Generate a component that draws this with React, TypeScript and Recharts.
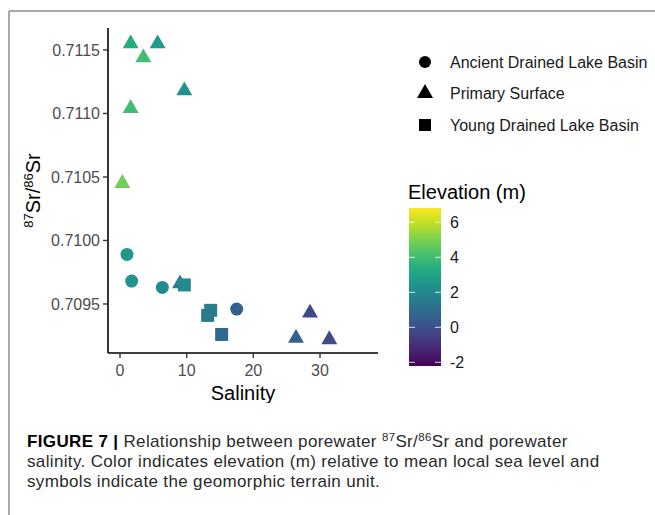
import React from 'react';
import { ScatterChart, Scatter, XAxis, YAxis } from 'recharts';

// terrain units: salinity, 87Sr/86Sr, elevation (m)
const ancientSalinity = [1.05, 1.75, 6.35, 17.5];
const ancientRatio = [0.70989, 0.70968, 0.70963, 0.70946];
const ancientElevation = [2.5, 2.3, 2.0, 0.5];

const primarySalinity = [1.6, 5.65, 3.5, 9.65, 1.6, 0.35, 9.0, 26.4, 28.5, 31.4];
const primaryRatio = [0.71155, 0.71155, 0.71144, 0.71118, 0.71104, 0.71045, 0.70966, 0.70923, 0.70943, 0.70922];
const primaryElevation = [3.3, 2.6, 4.0, 2.3, 4.0, 4.8, 1.7, 0.6, -0.25, -0.2];

const youngSalinity = [9.65, 13.6, 13.15, 15.25];
const youngRatio = [0.70965, 0.70945, 0.70941, 0.70926];
const youngElevation = [2.0, 1.6, 1.4, 0.8];

const xTicks = [0, 10, 20, 30];
const yTicks = [0.7095, 0.71, 0.7105, 0.711, 0.7115];
const colorTicks = [-2, 0, 2, 4, 6];
const legendLabels = ['Ancient Drained Lake Basin', 'Primary Surface', 'Young Drained Lake Basin'];

const FONT = '"Liberation Sans", Arial, Helvetica, sans-serif';
const ELEV_MIN = -2.25;
const ELEV_MAX = 6.78;
const VIRIDIS = ['#440154', '#482475', '#414487', '#355f8d', '#2a788e', '#21918c', '#22a884', '#44bf70', '#7ad151', '#bddf26', '#fde725'];

function hex(c: string) {
  return [1, 3, 5].map((i) => parseInt(c.slice(i, i + 2), 16));
}

function viridis(v: number) {
  let t = (v - ELEV_MIN) / (ELEV_MAX - ELEV_MIN);
  t = Math.max(0, Math.min(1, t));
  const p = t * (VIRIDIS.length - 1);
  const i = Math.min(Math.floor(p), VIRIDIS.length - 2);
  const f = p - i;
  const a = hex(VIRIDIS[i]);
  const b = hex(VIRIDIS[i + 1]);
  const m = a.map((x, k) => Math.round(x + (b[k] - x) * f));
  return `rgb(${m[0]},${m[1]},${m[2]})`;
}

function build(sal: number[], ratio: number[], elev: number[]) {
  return sal.map((s, i) => ({ x: s, y: ratio[i], elev: elev[i] }));
}

const ancientData = build(ancientSalinity, ancientRatio, ancientElevation);
const primaryData = build(primarySalinity, primaryRatio, primaryElevation);
const youngData = build(youngSalinity, youngRatio, youngElevation);

const CircleShape = (p: any) => <circle cx={p.cx} cy={p.cy} r={6.5} fill={viridis(p.payload.elev)} />;
const SquareShape = (p: any) => (
  <rect x={p.cx - 6.5} y={p.cy - 6.5} width={13} height={13} fill={viridis(p.payload.elev)} />
);
const TriangleShape = (p: any) => {
  const r = 9.2;
  const xc = r * 0.866;
  const pts = `${p.cx},${p.cy - r} ${p.cx + xc},${p.cy + r / 2} ${p.cx - xc},${p.cy + r / 2}`;
  return <polygon points={pts} fill={viridis(p.payload.elev)} />;
};

const YLabel = () => (
  <text transform="translate(31,190.5) rotate(-90)" y={9} textAnchor="middle" fontSize={20} fill="#000" fontFamily={FONT}>
    <tspan fontSize={13} dy={-7}>87</tspan>
    <tspan dy={7}>Sr/</tspan>
    <tspan fontSize={13} dy={-7}>86</tspan>
    <tspan dy={7}>Sr</tspan>
  </text>
);

const XLabel = () => (
  <text x={243} y={400} textAnchor="middle" fontSize={20} fill="#000" fontFamily={FONT}>
    Salinity
  </text>
);

const barTop = 208;
const barBottom = 366;
const barY = (v: number) => 327.3 - v * 17.5;

export default function App() {
  return (
    <div style={{ position: 'absolute', left: 0, top: 0, width: 655, height: 515, background: '#fff', fontFamily: FONT }}>
      <div style={{ position: 'absolute', left: 0, top: 0 }}>
        <ScatterChart width={400} height={403} margin={{ top: 28, right: 22, bottom: 0, left: 20 }}>
          <XAxis
            type="number"
            dataKey="x"
            domain={[-1.8, 38.7]}
            ticks={xTicks}
            height={50}
            tickSize={5}
            tickMargin={7}
            axisLine={{ stroke: '#000', strokeWidth: 1.6 }}
            tickLine={{ stroke: '#333', strokeWidth: 1.4 }}
            tick={{ fill: '#4d4d4d', fontSize: 16, fontFamily: FONT }}
            label={<XLabel />}
          />
          <YAxis
            type="number"
            dataKey="y"
            domain={[0.709114, 0.711673]}
            ticks={yTicks}
            width={88}
            tickSize={5}
            tickMargin={3}
            tickFormatter={(v: number) => v.toFixed(4)}
            axisLine={{ stroke: '#000', strokeWidth: 1.6 }}
            tickLine={{ stroke: '#333', strokeWidth: 1.4 }}
            tick={{ fill: '#4d4d4d', fontSize: 16, fontFamily: FONT }}
            label={<YLabel />}
          />
          <Scatter data={ancientData} shape={CircleShape} isAnimationActive={false} />
          <Scatter data={primaryData} shape={TriangleShape} isAnimationActive={false} />
          <Scatter data={youngData} shape={SquareShape} isAnimationActive={false} />
        </ScatterChart>
      </div>
      <svg width={655} height={515} style={{ position: 'absolute', left: 0, top: 0, pointerEvents: 'none' }} fontFamily={FONT}>
        <line x1={9} y1={11} x2={655} y2={11} stroke="#8c8c8c" strokeWidth={1.5} />
        <line x1={9} y1={11} x2={9} y2={515} stroke="#8c8c8c" strokeWidth={1.5} />

        {/* shape legend */}
        <circle cx={425} cy={62} r={6} fill="#000" />
        <polygon points="425,84 433,98 417,98" fill="#000" />
        <rect x={419} y={119} width={12} height={12} fill="#000" />
        {legendLabels.map((l, i) => (
          <text key={l} x={450} y={[62, 93, 125][i]} dominantBaseline="central" fontSize={16} fill="#1a1a1a">
            {l}
          </text>
        ))}

        {/* colour bar */}
        <defs>
          <linearGradient id="vir" x1="0" y1="1" x2="0" y2="0">
            {VIRIDIS.map((c, i) => (
              <stop key={i} offset={i / (VIRIDIS.length - 1)} stopColor={c} />
            ))}
          </linearGradient>
        </defs>
        <text x={408} y={192} dominantBaseline="central" fontSize={20} fill="#000">
          Elevation (m)
        </text>
        <rect x={409} y={barTop} width={32} height={barBottom - barTop} fill="url(#vir)" />
        {colorTicks.map((t) => (
          <g key={t}>
            <line x1={409} x2={415} y1={barY(t)} y2={barY(t)} stroke="#fff" strokeWidth={1} opacity={0.8} />
            <line x1={435} x2={441} y1={barY(t)} y2={barY(t)} stroke="#fff" strokeWidth={1} opacity={0.8} />
            <text x={450} y={barY(t)} dominantBaseline="central" fontSize={16} fill="#1a1a1a">
              {t}
            </text>
          </g>
        ))}

        {/* caption */}
        <g fontSize={17} fill="#2a2a2a" letterSpacing={0.35}>
          <text x={27} y={447}>
            <tspan fontWeight="bold" fill="#000">FIGURE 7 | </tspan>
            <tspan>Relationship between porewater </tspan>
            <tspan fontSize={11.5} dy={-6}>87</tspan>
            <tspan dy={6}>Sr/</tspan>
            <tspan fontSize={11.5} dy={-6}>86</tspan>
            <tspan dy={6}>Sr and porewater</tspan>
          </text>
          <text x={27} y={467}>
            salinity. Color indicates elevation (m) relative to mean local sea level and
          </text>
          <text x={27} y={487}>
            symbols indicate the geomorphic terrain unit.
          </text>
        </g>
      </svg>
    </div>
  );
}
